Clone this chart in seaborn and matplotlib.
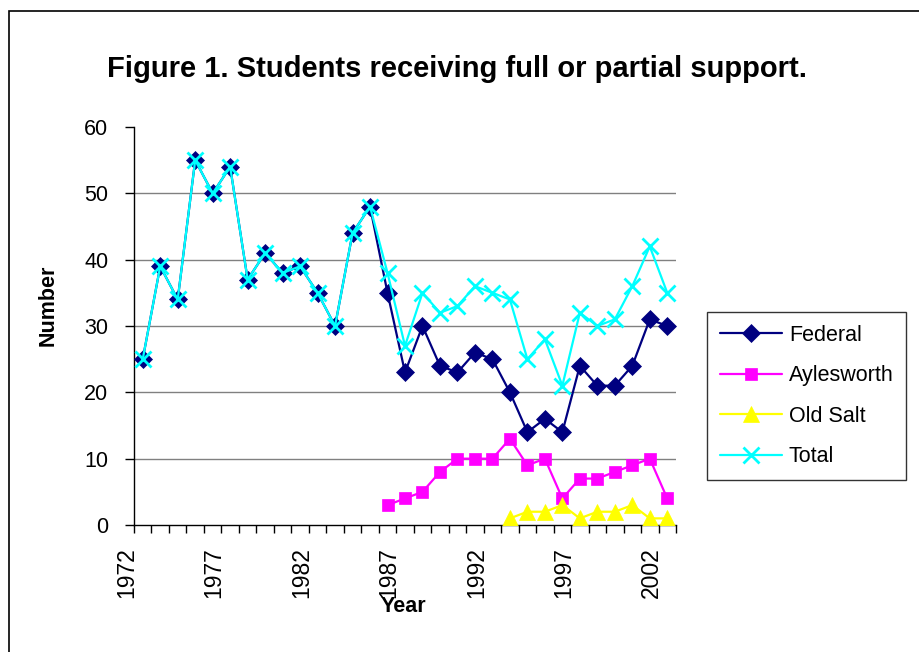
import numpy as np
import pandas as pd
import matplotlib
matplotlib.use("Agg")
import matplotlib.pyplot as plt
import matplotlib.transforms as mtransforms
from matplotlib.patches import Rectangle
import seaborn as sns

# ---- data ----
years = list(range(1972, 2003))
federal = [25, 39, 34, 55, 50, 54, 37, 41, 38, 39, 35, 30, 44, 48,
           35, 23, 30, 24, 23, 26, 25, 20, 14, 16, 14, 24, 21, 21, 24, 31, 30]
aylesworth = [np.nan] * 14 + [3, 4, 5, 8, 10, 10, 10, 13, 9, 10, 4, 7, 7, 8, 9, 10, 4]
old_salt = [np.nan] * 21 + [1, 2, 2, 3, 1, 2, 2, 3, 1, 1]
total = [25, 39, 34, 55, 50, 54, 37, 41, 38, 39, 35, 30, 44, 48,
         38, 27, 35, 32, 33, 36, 35, 34, 25, 28, 21, 32, 30, 31, 36, 42, 35]
tick_years = [1972, 1977, 1982, 1987, 1992, 1997, 2002]
y_ticks = [0, 10, 20, 30, 40, 50, 60]

series_names = ["Federal", "Aylesworth", "Old Salt", "Total"]
series_vals = [federal, aylesworth, old_salt, total]
colors = ["#000080", "#FF00FF", "#FFFF00", "#00FFFF"]
markers = ["D", "s", "^", "x"]
msizes = [9.5, 9, 11, 11]

df = pd.DataFrame({"Year": years})
for n, v in zip(series_names, series_vals):
    df[n] = v

sns.set_theme(style="white")
plt.rcParams["font.family"] = ["Liberation Sans", "DejaVu Sans"]
plt.rcParams["text.color"] = "black"

W, H = 920, 652
fig = plt.figure(figsize=(W / 100, H / 100), dpi=100)
left, right, top, bottom = 134, 676, 127, 525
ax = fig.add_axes([left / W, 1 - bottom / H, (right - left) / W, (bottom - top) / H])

for i, (n, c, m, ms) in enumerate(zip(series_names, colors, markers, msizes)):
    sub = df[["Year", n]].dropna()
    sns.lineplot(data=sub, x="Year", y=n, ax=ax, color=c, marker=m,
                 markersize=ms, markeredgecolor=c, markerfacecolor=c,
                 markeredgewidth=2 if m == "x" else 0.5,
                 linewidth=1.6, estimator=None, label=n, zorder=3 + i)

ax.set_xlim(1971.5, 2002.5)
ax.set_ylim(0, 60)
ax.set_yticks(y_ticks)
ax.set_yticklabels([str(t) for t in y_ticks], fontsize=15.5, color="black")
ax.set_xticks(tick_years)
ax.set_xticklabels([str(t) for t in tick_years], rotation=90, fontsize=16.5, color="black")
ax.set_xticks(np.arange(1971.5, 2003.0, 1.0), minor=True)
ax.tick_params(axis="x", which="major", length=0, pad=16)
ax.tick_params(axis="x", which="minor", length=5.5, width=1, color="black", direction="out", bottom=True)
ax.tick_params(axis="y", which="major", length=6.5, width=1, color="black", direction="out", left=True, pad=12)

offset = mtransforms.ScaledTranslation(-0.16, 0, fig.dpi_scale_trans)
for lab in ax.get_xticklabels():
    lab.set_transform(lab.get_transform() + offset)

ax.set_xlabel("")
ax.set_ylabel("")
ax.yaxis.grid(True, color="#808080", linewidth=1)
ax.xaxis.grid(False)
gl = ax.yaxis.get_gridlines()
gl[0].set_visible(False)
gl[-1].set_visible(False)
for s in ["top", "right"]:
    ax.spines[s].set_visible(False)
for s in ["left", "bottom"]:
    ax.spines[s].set_color("black")
    ax.spines[s].set_linewidth(1)
ax.set_facecolor("white")

fig.text(457 / W, 1 - 77 / H, "Figure 1. Students receiving full or partial support.",
         ha="center", va="baseline", fontsize=21, fontweight="bold", color="black")
fig.text(48 / W, 1 - 305 / H, "Number", rotation=90, ha="center", va="center",
         fontsize=15.5, fontweight="bold", color="black")
fig.text(403 / W, 1 - 606 / H, "Year", ha="center", va="center",
         fontsize=15.5, fontweight="bold", color="black")

leg = ax.legend(loc="upper left", bbox_to_anchor=(707 / W, 1 - 312 / H),
                bbox_transform=fig.transFigure, frameon=True, fancybox=False,
                fontsize=15.5, handlelength=2.9, handletextpad=0.3,
                labelspacing=0.9, borderpad=0.6, borderaxespad=0)
leg.get_frame().set_edgecolor("black")
leg.get_frame().set_linewidth(1)
for t in leg.get_texts():
    t.set_color("black")

fig.patches.append(Rectangle((8.5 / W, -0.1), 1.2, 1 - 10.5 / H + 0.1,
                             transform=fig.transFigure, fill=False,
                             edgecolor="black", linewidth=1.2))

fig.savefig("out.png", dpi=100, facecolor="white")
